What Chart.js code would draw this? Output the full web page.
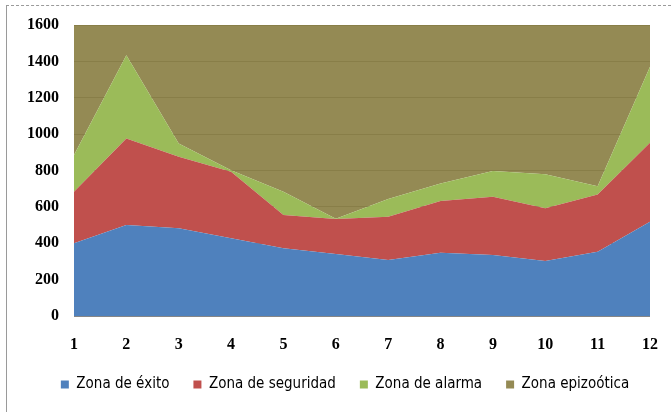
<!DOCTYPE html>
<html>
<head>
<meta charset="utf-8">
<script src="https://cdn.jsdelivr.net/npm/chart.js@4"></script>
<style>
  html, body { margin: 0; padding: 0; background: #fff; }
  #wrap { position: relative; width: 671px; height: 412px; }
  #frame { position: absolute; left: 6px; top: 5px; right: 0; bottom: 0;
           border-left: 1px solid #9a9a9a; border-top: 1px dashed #9a9a9a; }
  #chart { position: absolute; left: 0; top: 0; }
</style>
</head>
<body>
<div id="wrap">
  <div id="frame"></div>
  <canvas id="chart" width="671" height="412"></canvas>
</div>
<script>
// meses
const labels = ['1', '2', '3', '4', '5', '6', '7', '8', '9', '10', '11', '12'];

// valores de cada zona (apilados)
const exito      = [400, 500, 482, 427, 372, 341, 308, 348, 335, 302, 353, 518];
const seguridad  = [283, 476, 393, 366, 183, 192, 238, 284, 321, 290, 315, 434];
const alarma     = [202, 458,  74,   9, 128,   2,  97,  97, 141, 188,  46, 418];
const epizootica = [715, 166, 651, 798, 917, 1065, 957, 871, 803, 820, 886, 230];

const yTicks = [0, 200, 400, 600, 800, 1000, 1200, 1400, 1600];

const tickFont = { family: 'Liberation Serif', size: 16, weight: 'bold' };

function zona(label, data, color, fill) {
    return {
        label: label,
        data: data,
        backgroundColor: color,
        borderColor: color,
        borderWidth: 0,
        pointRadius: 0,
        pointHoverRadius: 0,
        tension: 0,
        fill: fill
    };
}

// corre la leyenda un poco a la derecha, como en el original
const moverLeyenda = {
    id: 'moverLeyenda',
    afterLayout: function(c) {
        c.legend.left += 20;
        c.legend.right += 20;
    }
};

const chart = new Chart(document.getElementById('chart'), {
    type: 'line',
    data: {
        labels: labels,
        datasets: [
            zona('Zona de éxito', exito, '#4F81BD', 'origin'),
            zona('Zona de seguridad', seguridad, '#C0504D', '-1'),
            zona('Zona de alarma', alarma, '#9BBB59', '-1'),
            zona('Zona epizoótica', epizootica, 'rgba(136,125,65,0.9)', '-1')
        ]
    },
    plugins: [moverLeyenda],
    options: {
        responsive: false,
        animation: false,
        layout: { padding: { top: 25, right: 21, bottom: 10, left: 0 } },
        plugins: {
            tooltip: { enabled: false },
            legend: {
                position: 'bottom',
                labels: {
                    boxWidth: 8,
                    boxHeight: 8,
                    padding: 24,
                    color: '#000',
                    font: { family: "'Liberation Sans Narrow', 'DejaVu Sans Condensed', sans-serif", size: 15 },
                    generateLabels: function(c) {
                        const items = Chart.defaults.plugins.legend.labels.generateLabels(c);
                        items[3].fillStyle = '#948A54';
                        items.forEach(function(it) { it.lineWidth = 0; });
                        return items;
                    }
                }
            }
        },
        scales: {
            x: {
                offset: false,
                grid: { display: false, drawTicks: false },
                border: { display: false },
                ticks: { color: '#000', font: tickFont, padding: 19, maxRotation: 0 },
                afterFit: function(s) {
                    s.height = 37;
                    s.paddingLeft = 0;
                    s.paddingRight = 0;
                }
            },
            y: {
                stacked: true,
                min: 0,
                max: 1600,
                afterBuildTicks: function(s) { s.ticks = yTicks.map(function(v) { return { value: v }; }); },
                grid: { color: '#868686', drawTicks: false, z: 0 },
                border: { display: false },
                ticks: {
                    color: '#000', font: tickFont, padding: 15,
                    callback: function(v) { return String(v); }
                },
                afterFit: function(s) { s.width = 74; }
            }
        }
    }
});
</script>
</body>
</html>
